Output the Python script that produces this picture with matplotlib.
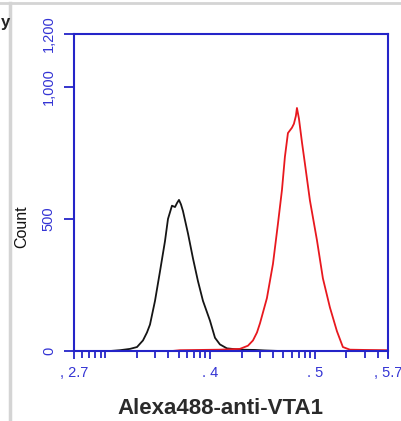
import numpy as np
import matplotlib
matplotlib.use("Agg")
import matplotlib.pyplot as plt
from matplotlib.lines import Line2D

plt.rcParams['font.family'] = ['Liberation Sans', 'DejaVu Sans']

# black histogram (log10 channel, count)
black_log = [3.044, 3.139, 3.235, 3.302, 3.359, 3.397, 3.426, 3.474, 3.521, 3.569,
             3.598, 3.636, 3.665, 3.684, 3.703, 3.722, 3.741, 3.789, 3.837, 3.884,
             3.932, 3.999, 4.047, 4.094, 4.161, 4.285, 4.429, 4.524, 4.667]
black_cnt = [0, 3, 8, 15, 40, 70, 100, 190, 300, 415,
             500, 550, 545, 560, 572, 555, 530, 445, 350, 265,
             190, 115, 50, 25, 10, 5, 4, 2, 0]

# red histogram
red_log = [3.636, 3.712, 3.903, 4.094, 4.285, 4.362, 4.410, 4.448, 4.477, 4.543,
           4.601, 4.648, 4.687, 4.715, 4.744, 4.782, 4.801, 4.820, 4.830, 4.849,
           4.878, 4.906, 4.954, 5.021, 5.078, 5.145, 5.212, 5.269, 5.336, 5.479, 5.7]
red_cnt = [0, 3, 4, 5, 8, 20, 40, 70, 105, 200,
           330, 480, 610, 735, 825, 845, 860, 890, 920, 880,
           790, 710, 570, 420, 275, 165, 75, 15, 5, 4, 3]

x_major = [2.7, 4, 5, 5.7]
x_labels = [', 2.7', '. 4', '. 5', ', 5.7']
y_ticks = [0, 500, 1000, 1200]
y_labels = ['0', '500', '1,000', '1,200']

blue = '#2424c8'
W, H = 401, 421

fig = plt.figure(figsize=(W / 100, H / 100), dpi=100)
ax = fig.add_axes([74 / W, 1 - 351 / H, 314 / W, 317 / H])

ax.plot(10 ** np.array(black_log), black_cnt, color='#151515', lw=1.3)
ax.plot(10 ** np.array(red_log), red_cnt, color='#e8181e', lw=1.3)

ax.set_xscale('log')
ax.set_xlim(10 ** 2.7, 10 ** 5.7)
ax.set_ylim(0, 1200)

ax.set_xticks([10 ** v for v in x_major])
ax.set_xticklabels(x_labels)
minor = [m * 10 ** k for k in range(2, 6) for m in range(1, 10)]
minor = [v for v in minor if 10 ** 2.7 < v < 10 ** 5.7]
ax.set_xticks(minor, minor=True)
ax.xaxis.set_minor_formatter(plt.NullFormatter())

ax.set_yticks(y_ticks)
ax.set_yticklabels(y_labels, rotation=90, va='center')

for s in ax.spines.values():
    s.set_color(blue)
    s.set_linewidth(1.5)
ax.tick_params(axis='both', which='both', colors=blue, labelcolor='#3434d4',
               direction='out', width=1.3, labelsize=10.5)
ax.tick_params(axis='x', which='major', length=6, pad=5)
ax.tick_params(axis='x', which='minor', length=5)
ax.tick_params(axis='y', length=7, pad=6)

fig.text(22 / W, 1 - 227 / H, 'Count', rotation=90, ha='center', va='center',
         fontsize=11.5, color='#111111')
fig.text(220 / W, 1 - 408 / H, 'Alexa488-anti-VTA1', ha='center', va='center',
         fontsize=16, fontweight='bold', color='#2a2a2a')

# page frame pieces
fig.add_artist(Line2D([0, 1], [1 - 3 / H, 1 - 3 / H], color='#d4d4d4', lw=2))
fig.add_artist(Line2D([10 / W, 10 / W], [0, 1 - 3 / H], color='#d4d4d4', lw=2.5))
fig.text(0.5 / W, 1 - 22 / H, 'y', ha='left', va='center', fontsize=12,
         fontweight='bold', color='#222222')

fig.savefig('out.png', dpi=100)
